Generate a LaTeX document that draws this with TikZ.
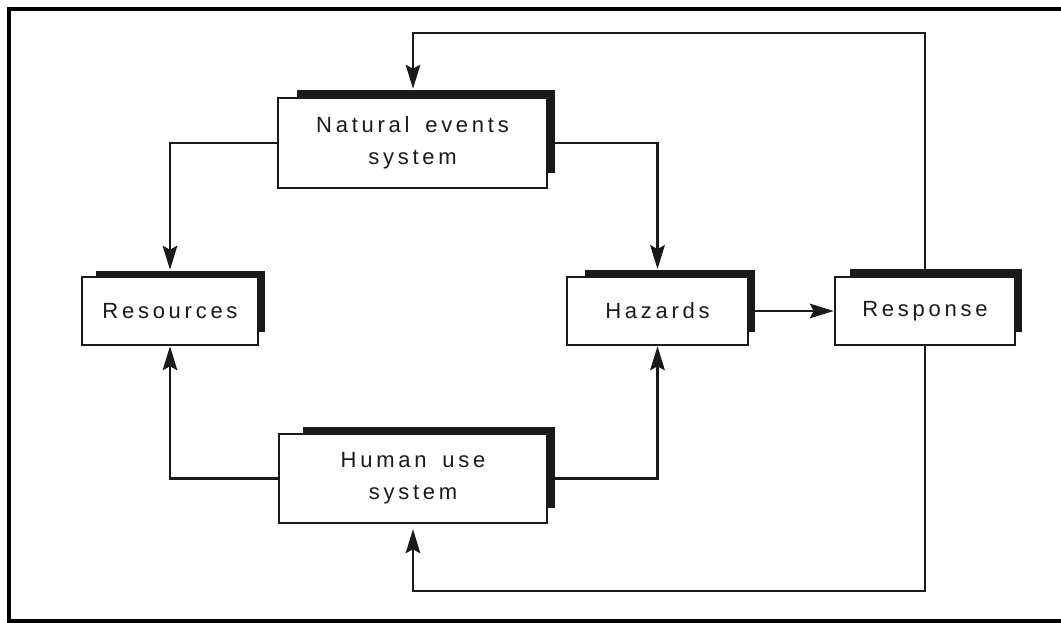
\documentclass[tikz,border=0pt]{standalone}
\usepackage{fontspec}
\setmainfont{Liberation Sans}[LetterSpace=17, WordSpace=1.6]
\usetikzlibrary{arrows.meta,calc}
\definecolor{ink}{HTML}{1A1A1A}
\def\upx{0.75pt}
\tikzset{
  sysbox/.style={draw=ink, line width=1.9pt, fill=white, align=center, inner sep=0pt,
    font=\fontsize{16.5pt}{24pt}\selectfont, text=ink},
  shadowfill/.style={fill=ink},
  conn/.style={draw=ink, line width=1.6pt},
  arr/.style={conn, -{Stealth[length=18pt, width=11pt, inset=3pt]}},
  frameline/.style={draw=black, line width=3pt}
}
\begin{document}
\begin{tikzpicture}[x=0.75pt, y=-0.75pt]
\useasboundingbox (0,0) rectangle (1061,623);
\fill[white] (0,0) rectangle (1061,623);
% outer frame
\draw[frameline] (1065,9) -- (9,9) -- (9,621) -- (1065,621);
% shadows
\fill[shadowfill] (297,90) rectangle (555,173);
\fill[shadowfill] (96,271) rectangle (265,332);
\fill[shadowfill] (585,270) rectangle (755,332);
\fill[shadowfill] (850,269) rectangle (1022,332);
\fill[shadowfill] (303,427) rectangle (555,508);
% boxes
\node[sysbox, minimum width=269*\upx, minimum height=90*\upx] (nat) at (412.5,143) {Natural events\\system};
\node[sysbox, minimum width=176*\upx, minimum height=68*\upx] (res) at (170,311) {Resources};
\node[sysbox, minimum width=181*\upx, minimum height=68*\upx] (haz) at (657.5,311) {Hazards};
\node[sysbox, minimum width=180*\upx, minimum height=68*\upx] (resp) at (925,311) {Response};
\node[sysbox, minimum width=268*\upx, minimum height=89*\upx] (hum) at (413,478.5) {Human use\\system};
% connectors
\coordinate (tl) at (413,33);
\coordinate (bl) at (413,591);
\draw[arr] (nat.west) -| ([yshift=4.5pt]res.north);
\draw[arr] (nat.east) -| ([yshift=5pt]haz.north);
\draw[arr] (hum.west) -| (res.south);
\draw[arr] (hum.east) -| (haz.south);
\draw[arr] (haz.east) -- (resp.west);
\draw[arr] (resp.north) |- (tl) -- ([yshift=6pt]tl |- nat.north);
\draw[arr] (resp.south) |- (bl) -- ([yshift=-3.75pt]bl |- hum.south);
\end{tikzpicture}
\end{document}
